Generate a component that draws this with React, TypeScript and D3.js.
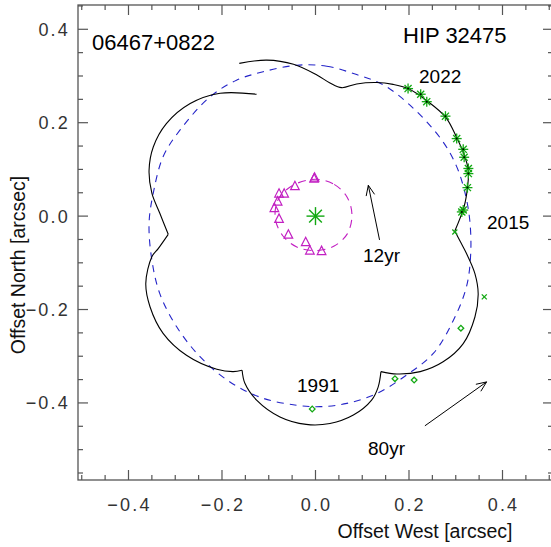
import React from "react";
import * as d3 from "d3";

const W = 551;
const H = 547;

// axis ranges (arcsec)
const xDomain = [-0.508, 0.5];
const yDomain = [-0.565, 0.452];
const majorTicks = [-0.4, -0.2, 0.0, 0.2, 0.4];

// outer orbit (80 yr), blue dashed
const outerOrbit: [number, number][] = [
  [-0.04, 0.323], [0.024, 0.321], [0.088, 0.303], [0.145, 0.281], [0.206, 0.234],
  [0.27, 0.163], [0.302, 0.106], [0.32, 0.049], [0.33, -0.009], [0.332, -0.08],
  [0.323, -0.151], [0.295, -0.223], [0.252, -0.294], [0.195, -0.34], [0.131, -0.38],
  [0.067, -0.401], [0.01, -0.408], [-0.04, -0.405], [-0.112, -0.39], [-0.183, -0.355],
  [-0.247, -0.301], [-0.297, -0.237], [-0.333, -0.166], [-0.35, -0.094], [-0.356, -0.016],
  [-0.347, 0.049], [-0.326, 0.127], [-0.29, 0.184], [-0.226, 0.255], [-0.169, 0.291],
  [-0.112, 0.309],
];

// inner orbit (12 yr), magenta dashed
const innerOrbit: [number, number][] = [
  [0.0, 0.079], [0.04, 0.068], [0.068, 0.04], [0.078, 0.002], [0.068, -0.038],
  [0.04, -0.064], [0.0, -0.074], [-0.04, -0.066], [-0.07, -0.042], [-0.086, -0.005],
  [-0.08, 0.035], [-0.05, 0.065],
];

// combined motion (black), split at the cusps
const wobbleArcA: [number, number][] = [
  [-0.163, 0.327], [-0.104, 0.334], [-0.047, 0.325], [0.003, 0.302], [0.031, 0.285],
  [0.056, 0.275], [0.088, 0.283], [0.131, 0.286], [0.166, 0.282], [0.198, 0.273],
  [0.238, 0.247], [0.279, 0.211], [0.303, 0.166], [0.317, 0.134], [0.327, 0.098],
  [0.325, 0.06], [0.318, 0.021], [0.298, -0.032],
];
const wobbleArcB: [number, number][] = [
  [0.298, -0.032], [0.31, -0.055], [0.323, -0.08], [0.341, -0.123], [0.348, -0.166],
  [0.341, -0.216], [0.316, -0.273], [0.273, -0.312], [0.224, -0.333], [0.174, -0.338],
  [0.14, -0.333],
];
const wobbleArcC: [number, number][] = [
  [0.14, -0.333], [0.134, -0.366], [0.12, -0.394], [0.081, -0.426], [0.031, -0.444],
  [-0.02, -0.446], [-0.076, -0.43], [-0.126, -0.394], [-0.151, -0.358], [-0.157, -0.33],
];
const wobbleArcD: [number, number][] = [
  [-0.157, -0.33], [-0.176, -0.333], [-0.211, -0.328], [-0.276, -0.298], [-0.326, -0.251],
  [-0.354, -0.194], [-0.363, -0.144], [-0.35, -0.087], [-0.336, -0.069], [-0.315, -0.039],
];
const wobbleArcE: [number, number][] = [
  [-0.315, -0.039], [-0.333, 0.006], [-0.35, 0.049], [-0.356, 0.098], [-0.347, 0.148],
  [-0.319, 0.198], [-0.268, 0.241], [-0.204, 0.263], [-0.126, 0.261],
];

// speckle measures of the outer pair (green asterisks)
const speckleStars: [number, number][] = [
  [0.198, 0.273], [0.225, 0.261], [0.238, 0.245], [0.278, 0.214], [0.302, 0.166],
  [0.316, 0.143], [0.318, 0.126], [0.327, 0.102], [0.327, 0.091], [0.325, 0.061],
  [0.316, 0.013], [0.313, 0.009],
];
// older measures (small green diamonds / crosses)
const oldDiamonds: [number, number][] = [
  [0.311, -0.24], [0.17, -0.348], [0.211, -0.351], [-0.007, -0.413],
];
const oldCrosses: [number, number][] = [[0.298, -0.034], [0.361, -0.173]];

// inner pair measures (magenta triangles)
const innerMeasures: [number, number][] = [
  [-0.003, 0.081], [-0.002, 0.083], [-0.044, 0.065], [-0.067, 0.049], [-0.078, 0.049],
  [-0.081, 0.032], [-0.088, 0.018], [-0.078, -0.005], [-0.058, -0.039], [-0.021, -0.055],
  [-0.012, -0.073], [0.013, -0.074],
];

const FONT = "'Liberation Sans', Arial, Helvetica, sans-serif";
const GREEN = "#12a812";
const MAGENTA = "#c21fc2";
const BLUE = "#2424c8";

const Star = ({ cx, cy, r, color, width }: any) => (
  <g stroke={color} strokeWidth={width}>
    {[0, 45, 90, 135].map((a) => {
      const t = (a * Math.PI) / 180;
      return (
        <line key={a} x1={cx - r * Math.cos(t)} y1={cy - r * Math.sin(t)}
          x2={cx + r * Math.cos(t)} y2={cy + r * Math.sin(t)} />
      );
    })}
  </g>
);

const Arrow = ({ x1, y1, x2, y2 }: any) => {
  const ang = Math.atan2(y2 - y1, x2 - x1);
  const L = 11;
  const h1 = [x2 - L * Math.cos(ang - 0.4), y2 - L * Math.sin(ang - 0.4)];
  const h2 = [x2 - L * Math.cos(ang + 0.4), y2 - L * Math.sin(ang + 0.4)];
  return (
    <g stroke="#000" strokeWidth={1} fill="none">
      <line x1={x1} y1={y1} x2={x2} y2={y2} />
      <polyline points={`${h1[0]},${h1[1]} ${x2},${y2} ${h2[0]},${h2[1]}`} />
    </g>
  );
};

export default function App() {
  const x = d3.scaleLinear().domain(xDomain).range([78, 549.25]);
  const y = d3.scaleLinear().domain(yDomain).range([480, 5]);
  const x0 = 78;
  const x1 = 553; // right frame edge falls just outside the picture
  const [y0, y1] = y.range();

  const minorX = x.ticks(20);
  const minorY = y.ticks(20);

  const line = d3.line<[number, number]>()
    .x((d) => x(d[0]))
    .y((d) => y(d[1]))
    .curve(d3.curveCatmullRom.alpha(0.5));
  const closed = d3.line<[number, number]>()
    .x((d) => x(d[0]))
    .y((d) => y(d[1]))
    .curve(d3.curveCatmullRomClosed.alpha(0.5));

  const isMajor = (v: number) => majorTicks.some((m) => Math.abs(m - v) < 1e-6);
  const fmt = (v: number) => (v < 0 ? "\u2212" : "") + Math.abs(v).toFixed(1);

  const axisColor = "#555";
  const tickLabelStyle = { fontFamily: FONT, fontSize: 18, letterSpacing: 2.2, fill: "#333" };

  return (
    <svg width={W} height={H} style={{ position: "absolute", left: 0, top: 0, background: "#fff" }}>
      {/* frame */}
      <rect x={x0} y={y1} width={x1 - x0} height={y0 - y1} fill="none" stroke={axisColor} strokeWidth={1.3} />

      {/* ticks on all four sides */}
      <g stroke={axisColor} strokeWidth={1.2}>
        {minorX.map((v) => {
          const len = isMajor(v) ? 10 : 5;
          return (
            <g key={"x" + v}>
              <line x1={x(v)} x2={x(v)} y1={y0} y2={y0 - len} />
              <line x1={x(v)} x2={x(v)} y1={y1} y2={y1 + len} />
            </g>
          );
        })}
        {minorY.map((v) => {
          const len = isMajor(v) ? 10 : 5;
          return (
            <g key={"y" + v}>
              <line x1={x0} x2={x0 + len} y1={y(v)} y2={y(v)} />
              <line x1={x1} x2={x1 - len} y1={y(v)} y2={y(v)} />
            </g>
          );
        })}
      </g>

      {/* tick labels */}
      {majorTicks.map((v) => (
        <text key={"xl" + v} x={x(v) + 1} y={511} textAnchor="middle" style={tickLabelStyle}>
          {fmt(v)}
        </text>
      ))}
      {majorTicks.map((v) => (
        <text key={"yl" + v} x={70} y={y(v) + 6.5} textAnchor="end" style={tickLabelStyle}>
          {fmt(v)}
        </text>
      ))}

      {/* axis titles */}
      <text x={425} y={538} textAnchor="middle" fontFamily={FONT} fontSize={19.5} fill="#111">
        Offset West [arcsec]
      </text>
      <text transform="translate(25,265) rotate(-90)" textAnchor="middle" fontFamily={FONT} fontSize={19.5} fill="#111">
        Offset North [arcsec]
      </text>

      {/* orbits */}
      <path d={closed(outerOrbit) || ""} fill="none" stroke={BLUE} strokeWidth={1.1} strokeDasharray="7,6" />
      <path d={closed(innerOrbit) || ""} fill="none" stroke={MAGENTA} strokeWidth={1.1} strokeDasharray="8,6" />
      {[wobbleArcA, wobbleArcB, wobbleArcC, wobbleArcD, wobbleArcE].map((arc, i) => (
        <path key={i} d={line(arc) || ""} fill="none" stroke="#000" strokeWidth={1.1} />
      ))}

      {/* measures */}
      {innerMeasures.map((d, i) => {
        const cx = x(d[0]);
        const cy = y(d[1]);
        const s = 4.3;
        return (
          <polygon key={"t" + i}
            points={`${cx - s},${cy + s * 0.9} ${cx + s},${cy + s * 0.9} ${cx},${cy - s * 1.05}`}
            fill="none" stroke={MAGENTA} strokeWidth={1.2} />
        );
      })}
      {speckleStars.map((d, i) => (
        <g key={"s" + i}>
          <Star cx={x(d[0])} cy={y(d[1])} r={5} color={GREEN} width={1.3} />
          <circle cx={x(d[0])} cy={y(d[1])} r={1} fill="#000" />
        </g>
      ))}
      {oldDiamonds.map((d, i) => (
        <rect key={"d" + i} x={x(d[0]) - 2} y={y(d[1]) - 2} width={4} height={4}
          transform={`rotate(45 ${x(d[0])} ${y(d[1])})`} fill="none" stroke={GREEN} strokeWidth={1.3} />
      ))}
      {oldCrosses.map((d, i) => (
        <g key={"c" + i} stroke={GREEN} strokeWidth={1.3}>
          <line x1={x(d[0]) - 2.5} y1={y(d[1]) - 2.5} x2={x(d[0]) + 2.5} y2={y(d[1]) + 2.5} />
          <line x1={x(d[0]) - 2.5} y1={y(d[1]) + 2.5} x2={x(d[0]) + 2.5} y2={y(d[1]) - 2.5} />
        </g>
      ))}

      {/* primary */}
      <Star cx={x(0)} cy={y(0)} r={9} color={GREEN} width={1.4} />

      {/* arrows */}
      <Arrow x1={x(0.137)} y1={y(-0.051)} x2={x(0.113)} y2={y(0.066)} />
      <Arrow x1={x(0.234)} y1={y(-0.449)} x2={x(0.366)} y2={y(-0.355)} />

      {/* annotations */}
      <g fontFamily={FONT} fill="#000">
        <text x={92} y={50} fontSize={22}>06467+0822</text>
        <text x={403} y={43} fontSize={22}>HIP 32475</text>
        <text x={419} y={83} fontSize={19}>2022</text>
        <text x={487} y={229} fontSize={19}>2015</text>
        <text x={297} y={392} fontSize={19}>1991</text>
        <text x={363} y={262} fontSize={19}>12yr</text>
        <text x={368} y={455} fontSize={19}>80yr</text>
      </g>
    </svg>
  );
}
